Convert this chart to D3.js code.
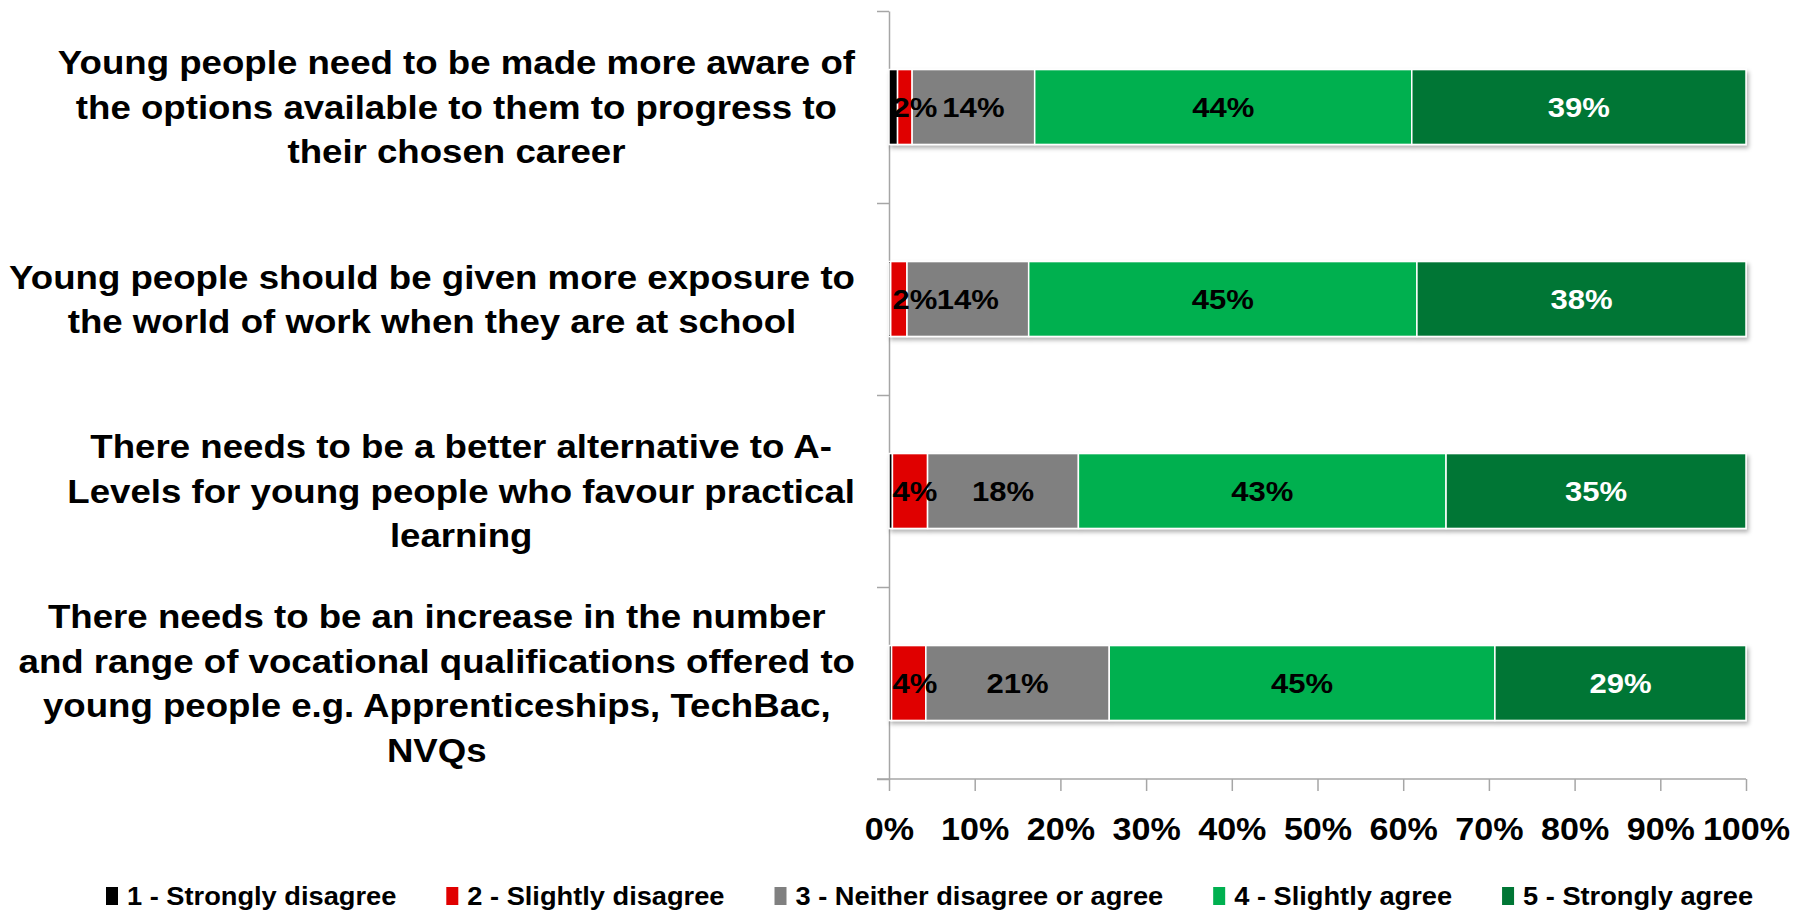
<!DOCTYPE html>
<html>
<head>
<meta charset="utf-8">
<script src="https://cdn.jsdelivr.net/npm/d3@7"></script>
<style>
    body { margin: 0; background: #ffffff; }
    text { font-family: "Liberation Sans", Arial, sans-serif; font-weight: bold; }
</style>
</head>
<body>
<div id="chart"></div>
<script>

// chart data
var categories = [
    ['Young people need to be made more aware of', 'the options available to them to progress to', 'their chosen career'],
    ['Young people should be given more exposure to', 'the world of work when they are at school'],
    ['There needs to be a better alternative to A-', 'Levels for young people who favour practical', 'learning'],
    ['There needs to be an increase in the number', 'and range of vocational qualifications offered to', 'young people e.g. Apprenticeships, TechBac,', 'NVQs']
];

var seriesNames = ['1 - Strongly disagree', '2 - Slightly disagree', '3 - Neither disagree or agree', '4 - Slightly agree', '5 - Strongly agree'];

// percent values per series, one per category
var stronglyDisagree = [1.0, 0.2, 0.4, 0.3];
var slightlyDisagree = [1.7, 1.9, 4.1, 4.0];
var neither = [14.3, 14.2, 17.6, 21.4];
var slightlyAgree = [44.0, 45.3, 42.9, 45.0];
var stronglyAgree = [39.0, 38.4, 35.0, 29.3];

var seriesLabels = [
    [null, null, null, null],
    ['2%', '2%', '4%', '4%'],
    ['14%', '14%', '18%', '21%'],
    ['44%', '45%', '43%', '45%'],
    ['39%', '38%', '35%', '29%']
];

var xTicks = [0, 10, 20, 30, 40, 50, 60, 70, 80, 90, 100];

var seriesColors = ['#000000', '#e00000', '#808080', '#00b050', '#007635'];
var labelColors = ['#000000', '#000000', '#000000', '#000000', '#ffffff'];

// svg area
var svgWidth = 1796;
var svgHeight = 914;

var svg = d3.select('#chart')
    .append('svg')
    .attr('width', svgWidth)
    .attr('height', svgHeight);

// soft shadow under the bars
var defs = svg.append('defs');
defs.append('filter')
    .attr('id', 'shadow')
    .attr('x', '-5%').attr('y', '-20%')
    .attr('width', '110%').attr('height', '150%')
    .append('feDropShadow')
    .attr('dx', 2)
    .attr('dy', 3)
    .attr('stdDeviation', 2)
    .attr('flood-color', '#000')
    .attr('flood-opacity', 0.3);

// scales
var xLinearScale = d3.scaleLinear()
    .domain([0, 100])
    .range([889, 1746]);

var yBandScale = d3.scaleBand()
    .domain(d3.range(categories.length))
    .range([11, 779])
    .paddingInner(0.61)
    .paddingOuter(0.305);

var yTickScale = d3.scaleLinear()
    .domain([0, categories.length])
    .range([11, 779]);

// stacked data
var table = categories.map(function (c, i) {
    return {
        idx: i,
        s0: stronglyDisagree[i],
        s1: slightlyDisagree[i],
        s2: neither[i],
        s3: slightlyAgree[i],
        s4: stronglyAgree[i]
    };
});

var keys = ['s0', 's1', 's2', 's3', 's4'];
var stacked = d3.stack().keys(keys)(table);

// axes
var leftAxis = d3.axisLeft(yTickScale)
    .tickValues(d3.range(categories.length + 1))
    .tickSize(12)
    .tickSizeOuter(0)
    .tickFormat('');

var bottomAxis = d3.axisBottom(xLinearScale)
    .tickValues(xTicks)
    .tickSize(12)
    .tickSizeOuter(0)
    .tickFormat('');

var yAxis = svg.append('g')
    .attr('transform', 'translate(889, 0)')
    .call(leftAxis);

var xAxis = svg.append('g')
    .attr('transform', 'translate(0, 779)')
    .call(bottomAxis);

// extend x axis line to meet the last y tick
xAxis.select('.domain').attr('d', 'M877,0H1746');

svg.selectAll('.domain, .tick line')
    .attr('stroke', '#a6a6a6')
    .attr('stroke-width', 1.5);

// x tick labels
xAxis.selectAll('.tick')
    .append('text')
    .attr('transform', 'translate(0, 61) scale(1.1, 1)')
    .attr('text-anchor', 'middle')
    .attr('fill', '#000')
    .attr('font-size', 31)
    .text(d => d + '%');

// bars
var barGroup = svg.append('g').attr('filter', 'url(#shadow)');

barGroup.selectAll('g')
    .data(stacked)
    .enter()
    .append('g')
    .attr('fill', (d, i) => seriesColors[i])
    .selectAll('rect')
    .data(d => d)
    .enter()
    .append('rect')
    .attr('x', d => xLinearScale(d[0]))
    .attr('y', d => yBandScale(d.data.idx))
    .attr('width', d => xLinearScale(d[1]) - xLinearScale(d[0]))
    .attr('height', yBandScale.bandwidth())
    .attr('stroke', '#ffffff')
    .attr('stroke-width', 1.5);

// data labels
stacked.forEach(function (layer, si) {
    svg.append('g')
        .selectAll('text')
        .data(layer.filter(d => seriesLabels[si][d.data.idx] !== null))
        .enter()
        .append('text')
        .attr('transform', function (d) {
            var cx = (xLinearScale(d[0]) + xLinearScale(d[1])) / 2;
            cx = Math.max(cx, xLinearScale(0) + 26);
            var cy = yBandScale(d.data.idx) + yBandScale.bandwidth() / 2;
            return 'translate(' + cx + ',' + cy + ') scale(1.15, 1)';
        })
        .attr('dy', '0.36em')
        .attr('text-anchor', 'middle')
        .attr('font-size', 27)
        .attr('fill', labelColors[si])
        .text(d => seriesLabels[si][d.data.idx]);
});

// category labels, centred lines in a block right-aligned to the axis
var lineHeight = 44.5;
var labelRight = 855;
var catStretch = 1.11;

categories.forEach(function (lines, i) {
    var cy = yBandScale(i) + yBandScale.bandwidth() / 2;
    var block = svg.append('g');
    var texts = block.selectAll('text')
        .data(lines)
        .enter()
        .append('text')
        .attr('font-size', 33)
        .attr('text-anchor', 'middle')
        .attr('dy', '0.36em')
        .text(d => d);

    var maxWidth = d3.max(texts.nodes(), n => n.getComputedTextLength()) * catStretch;
    var cx = labelRight - maxWidth / 2;

    texts.attr('transform', function (d, j) {
        var y = cy + (j - (lines.length - 1) / 2) * lineHeight;
        return 'translate(' + cx + ',' + y + ') scale(' + catStretch + ', 1)';
    });
});

// legend
var legend = svg.append('g');
var legendX = 106;
var legendY = 896;
var legendStretch = 1.09;

seriesNames.forEach(function (name, i) {
    var item = legend.append('g');

    item.append('rect')
        .attr('x', legendX)
        .attr('y', legendY - 9)
        .attr('width', 12)
        .attr('height', 18)
        .attr('fill', seriesColors[i]);

    var label = item.append('text')
        .attr('transform', 'translate(' + (legendX + 21) + ',' + legendY + ') scale(' + legendStretch + ', 1)')
        .attr('dy', '0.36em')
        .attr('font-size', 25)
        .attr('fill', '#000')
        .text(name);

    legendX += 21 + label.node().getComputedTextLength() * legendStretch + 50;
});

</script>
</body>
</html>
